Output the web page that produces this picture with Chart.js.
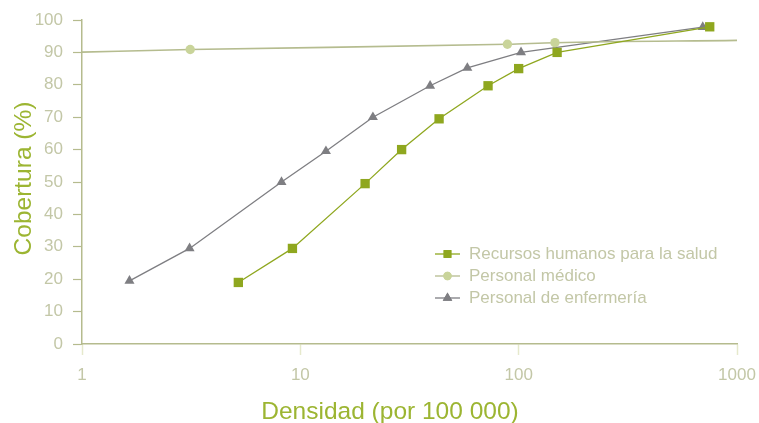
<!DOCTYPE html>
<html>
<head>
<meta charset="utf-8">
<script src="https://cdn.jsdelivr.net/npm/chart.js@4.4.1/dist/chart.umd.min.js"></script>
<style>
html,body{margin:0;padding:0;background:#fff;}
#wrap{width:759px;height:423px;position:relative;}
</style>
</head>
<body>
<div id="wrap"><canvas id="c" width="759" height="423"></canvas></div>
<script>
// ---- data ----
const seriesLabels = ['Recursos humanos para la salud', 'Personal médico', 'Personal de enfermería'];
const rhsX = [5.2, 9.2, 19.8, 29.1, 43.2, 72.4, 100, 150, 750];
const rhsY = [19, 29.5, 49.5, 60, 69.5, 79.7, 85, 90, 97.9];
const medX = [1, 3.13, 88.8, 146.6, 1000];
const medY = [90.1, 90.9, 92.5, 93, 93.7];
const medMarker = [false, true, true, true, false];
const enfX = [1.65, 3.11, 8.2, 13.1, 21.5, 39.3, 58.2, 102.5, 697];
const enfY = [19.5, 29.5, 50, 59.5, 70, 79.7, 85.2, 90, 97.8];
const xTicks = [1, 10, 100, 1000];
const yTicks = [0, 10, 20, 30, 40, 50, 60, 70, 80, 90, 100];
const xTitle = 'Densidad (por 100 000)';
const yTitle = 'Cobertura (%)';

const FONT = '"Liberation Sans", Arial, sans-serif';
const colRhs = '#8fa71f';
const colMed = '#c9d49a';
const colMedLine = '#b5bc8f';
const colEnf = '#7e7e82';
const colAxis = '#b5bb8e';
const colTickLbl = '#c3c7a7';
const colTitle = '#9cb532';

const pts = (xs, ys) => xs.map((x, i) => ({x: x, y: ys[i]}));

const overlay = {
  id: 'overlay',
  afterDraw(chart) {
    const ctx = chart.ctx;
    ctx.save();
    // axis titles
    ctx.fillStyle = colTitle;
    ctx.font = '24.5px ' + FONT;
    ctx.textAlign = 'center';
    ctx.textBaseline = 'alphabetic';
    ctx.fillText(xTitle, 390, 419);
    ctx.save();
    ctx.translate(30.5, 178.5);
    ctx.rotate(-Math.PI / 2);
    ctx.fillText(yTitle, 0, 0);
    ctx.restore();
    // legend
    const items = chart.data.datasets;
    const legY = [254, 276, 298];
    const sizes = [5.5, 4.2, 5.5];
    ctx.font = '17px ' + FONT;
    ctx.textAlign = 'left';
    ctx.textBaseline = 'middle';
    items.forEach((ds, i) => {
      const y = legY[i];
      ctx.strokeStyle = ds.borderColor;
      ctx.lineWidth = 1.3;
      ctx.beginPath();
      ctx.moveTo(435, y);
      ctx.lineTo(460, y);
      ctx.stroke();
      ctx.fillStyle = ds.pointBackgroundColor;
      Chart.helpers.drawPoint(ctx, {pointStyle: ds.pointStyle, radius: sizes[i], borderWidth: 0, rotation: 0}, 447.5, y);
      ctx.fill();
      ctx.fillStyle = colTickLbl;
      ctx.fillText(ds.label, 469, y + 0.5);
    });
    ctx.restore();
  }
};

new Chart(document.getElementById('c'), {
  type: 'line',
  data: {
    datasets: [
      {
        label: seriesLabels[0], data: pts(rhsX, rhsY),
        borderColor: colRhs, backgroundColor: colRhs, pointBackgroundColor: colRhs,
        pointBorderWidth: 0, pointStyle: 'rect', pointRadius: 6.6, borderWidth: 1.3, tension: 0
      },
      {
        label: seriesLabels[1], data: pts(medX, medY),
        borderColor: colMedLine, backgroundColor: colMed, pointBackgroundColor: colMed,
        pointBorderWidth: 0, pointStyle: 'circle', pointRadius: medMarker.map(m => m ? 4.7 : 0),
        borderWidth: 1.6, tension: 0.3, cubicInterpolationMode: 'monotone'
      },
      {
        label: seriesLabels[2], data: pts(enfX, enfY),
        borderColor: colEnf, backgroundColor: colEnf, pointBackgroundColor: colEnf,
        pointBorderWidth: 0, pointStyle: 'triangle', pointRadius: 5.8, borderWidth: 1.3, tension: 0
      }
    ]
  },
  options: {
    responsive: false,
    animation: false,
    devicePixelRatio: 1,
    layout: {padding: {top: 20, right: 22, left: 0, bottom: 0}},
    plugins: {legend: {display: false}, tooltip: {enabled: false}},
    scales: {
      x: {
        type: 'logarithmic', min: 1, max: 1000,
        afterBuildTicks: (s) => { s.ticks = xTicks.map(v => ({value: v})); },
        afterFit: (s) => { s.height = 79; s.paddingRight = 0; s.paddingLeft = 0; },
        ticks: {
          color: colTickLbl, font: {family: FONT, size: 17}, padding: 10,
          maxRotation: 0, autoSkip: false,
          callback: (v) => String(v)
        },
        grid: {drawOnChartArea: false, drawTicks: true, tickLength: 11, tickColor: '#e6e9cc', tickWidth: 1.5},
        border: {color: colAxis, width: 1.5}
      },
      y: {
        type: 'linear', min: 0, max: 100,
        afterBuildTicks: (s) => { s.ticks = yTicks.map(v => ({value: v})); },
        afterFit: (s) => { s.width = 82; s.paddingTop = 0; s.paddingBottom = 0; },
        ticks: {color: colTickLbl, font: {family: FONT, size: 17}, padding: 10, autoSkip: false},
        grid: {drawOnChartArea: false, drawTicks: true, tickLength: 9, tickColor: colAxis, tickWidth: 1.2},
        border: {color: colAxis, width: 1.5}
      }
    }
  },
  plugins: [overlay]
});
</script>
</body>
</html>
